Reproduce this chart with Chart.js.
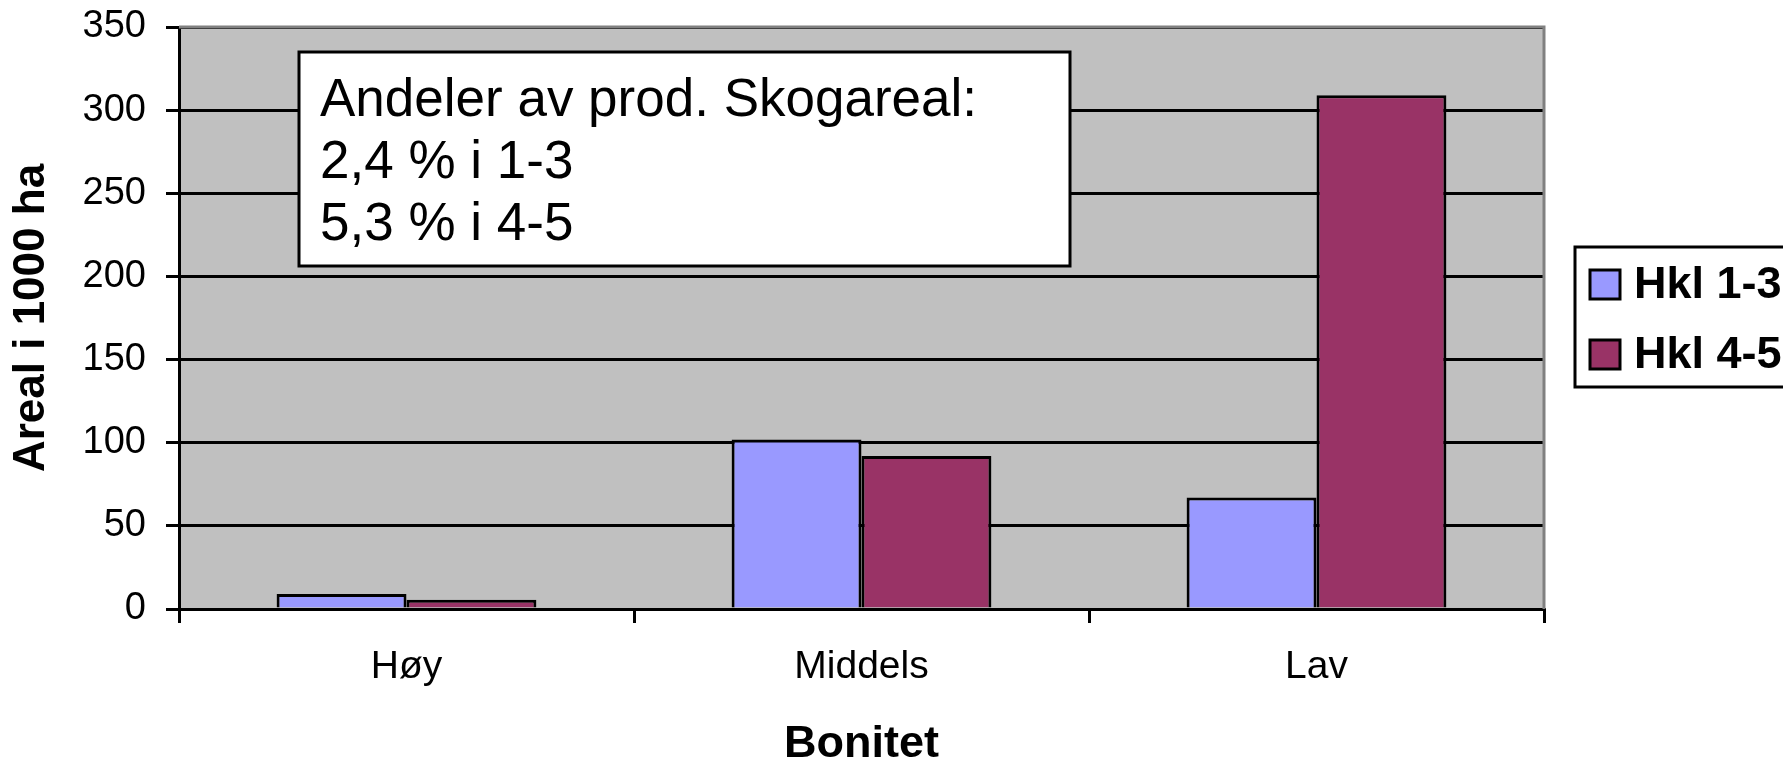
<!DOCTYPE html>
<html>
<head>
<meta charset="utf-8">
<script src="https://cdn.jsdelivr.net/npm/chart.js@4/dist/chart.umd.min.js"></script>
<style>
    html, body { margin: 0; padding: 0; background: #ffffff; }
    .chart-wrap { width: 1783px; height: 764px; }
</style>
</head>
<body>
<div class="chart-wrap"><canvas id="bonitet-chart" width="1783" height="764"></canvas></div>
<script>
const categories = ['Høy', 'Middels', 'Lav'];
const seriesNames = ['Hkl 1-3', 'Hkl 4-5'];
const hkl13 = [9, 102, 67];
const hkl45 = [5.5, 92, 309];
const seriesColors = ['#9999FF', '#993366'];
const yTicks = [0, 50, 100, 150, 200, 250, 300, 350];
const noteLines = ['Andeler av prod. Skogareal:', '2,4 % i 1-3', '5,3 % i 4-5'];

const FONT = '"Liberation Sans", Arial, sans-serif';

// grey plot background + grey top/right frame
const plotFrame = {
    id: 'plotFrame',
    beforeDraw(chart) {
        const { ctx, chartArea: a } = chart;
        ctx.save();
        ctx.fillStyle = '#C0C0C0';
        ctx.fillRect(a.left, a.top, a.right - a.left, a.bottom - a.top);
        ctx.restore();
    },
    afterDatasetsDraw(chart) {
        const { ctx, chartArea: a } = chart;
        ctx.save();
        ctx.strokeStyle = '#808080';
        ctx.lineWidth = 3;
        ctx.beginPath();
        ctx.moveTo(a.left, a.top);
        ctx.lineTo(a.right, a.top);
        ctx.lineTo(a.right, a.bottom);
        ctx.stroke();

        // text box with the shares
        ctx.fillStyle = '#ffffff';
        ctx.fillRect(299, 52, 771, 214);
        ctx.strokeStyle = '#000000';
        ctx.lineWidth = 3;
        ctx.strokeRect(299, 52, 771, 214);
        ctx.fillStyle = '#000000';
        ctx.font = '53px ' + FONT;
        ctx.textBaseline = 'middle';
        ctx.textAlign = 'left';
        noteLines.forEach((line, i) => {
            ctx.fillText(line, 320, 101 + i * 62);
        });
        ctx.restore();
    }
};

// legend box on the right, cut by the canvas edge like the original
const boxLegend = {
    id: 'boxLegend',
    afterDraw(chart) {
        const { ctx } = chart;
        ctx.save();
        ctx.fillStyle = '#ffffff';
        ctx.fillRect(1575, 247, 230, 140);
        ctx.strokeStyle = '#000000';
        ctx.lineWidth = 3;
        ctx.strokeRect(1575, 247, 230, 140);
        ctx.font = 'bold 45px ' + FONT;
        ctx.textBaseline = 'middle';
        chart.data.datasets.forEach((ds, i) => {
            const y = 270 + i * 70;
            ctx.fillStyle = ds.backgroundColor;
            ctx.fillRect(1590, y, 30, 29);
            ctx.strokeRect(1590, y, 30, 29);
            ctx.fillStyle = '#000000';
            ctx.fillText(ds.label, 1634, y + 16);
        });
        ctx.restore();
    }
};

new Chart(document.getElementById('bonitet-chart'), {
    type: 'bar',
    data: {
        labels: categories,
        datasets: [
            { label: seriesNames[0], data: hkl13, backgroundColor: seriesColors[0] },
            { label: seriesNames[1], data: hkl45, backgroundColor: seriesColors[1] }
        ]
    },
    options: {
        responsive: false,
        animation: false,
        devicePixelRatio: 1,
        layout: { padding: { top: 27, right: 239, left: 0, bottom: 0 } },
        datasets: {
            bar: {
                borderColor: '#000000',
                borderWidth: 3,
                categoryPercentage: 0.571,
                barPercentage: 1
            }
        },
        plugins: {
            legend: { display: false },
            tooltip: { enabled: false }
        },
        scales: {
            x: {
                offset: true,
                grid: {
                    display: true,
                    offset: true,
                    drawOnChartArea: false,
                    color: '#000000',
                    lineWidth: 3,
                    tickLength: 14
                },
                border: { color: '#000000', width: 3 },
                ticks: {
                    color: '#000000',
                    padding: 21,
                    font: { family: FONT, size: 39 }
                },
                title: {
                    display: true,
                    text: 'Bonitet',
                    color: '#000000',
                    padding: { top: 0, bottom: 0 },
                    font: { family: FONT, size: 45, weight: 'bold', lineHeight: 0.85 }
                },
                afterFit: (scale) => { scale.height = 155; }
            },
            y: {
                min: yTicks[0],
                max: yTicks[yTicks.length - 1],
                afterBuildTicks: (scale) => { scale.ticks = yTicks.map(v => ({ value: v })); },
                grid: {
                    color: '#000000',
                    lineWidth: 3,
                    tickLength: 13
                },
                border: { color: '#000000', width: 3 },
                ticks: {
                    color: '#000000',
                    padding: 20,
                    font: { family: FONT, size: 38 }
                },
                title: {
                    display: true,
                    text: 'Areal i 1000 ha',
                    color: '#000000',
                    padding: { top: 10, bottom: 0 },
                    font: { family: FONT, size: 44, weight: 'bold', lineHeight: 1 }
                },
                afterFit: (scale) => {
                    scale.width = 179;
                    scale.paddingTop = 0;
                    scale.paddingBottom = 0;
                }
            }
        }
    },
    plugins: [plotFrame, boxLegend]
});
</script>
</body>
</html>
